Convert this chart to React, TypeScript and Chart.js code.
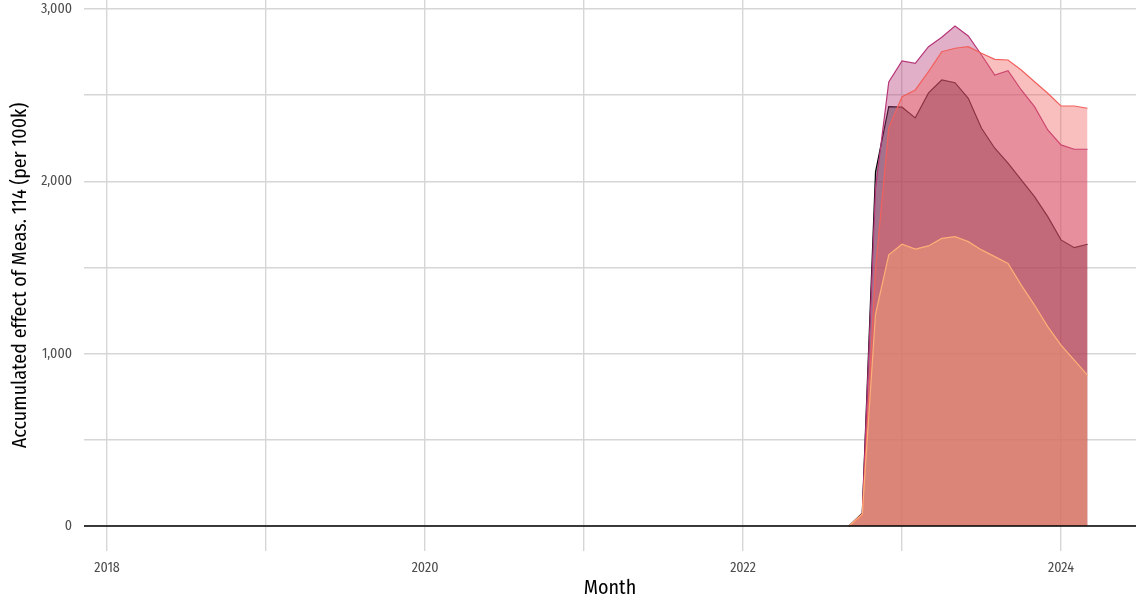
import React, { useEffect, useRef } from "react";
import { Chart, registerables } from "chart.js";

Chart.register(...registerables);

const months = [
  "2022-09", "2022-10", "2022-11", "2022-12",
  "2023-01", "2023-02", "2023-03", "2023-04", "2023-05", "2023-06",
  "2023-07", "2023-08", "2023-09", "2023-10", "2023-11", "2023-12",
  "2024-01", "2024-02", "2024-03",
];

const seriesBlack = [0, 75, 2055, 2433, 2430, 2368, 2513, 2588, 2572, 2482, 2308, 2192, 2105, 2008, 1911, 1795, 1660, 1615, 1635];
const seriesMagenta = [0, 70, 1960, 2576, 2698, 2685, 2781, 2836, 2901, 2843, 2733, 2617, 2642, 2530, 2433, 2298, 2211, 2186, 2186];
const seriesSalmon = [0, 60, 1490, 2310, 2491, 2530, 2636, 2752, 2772, 2781, 2743, 2708, 2704, 2646, 2578, 2511, 2437, 2437, 2424];
const seriesOrange = [0, 70, 1230, 1573, 1635, 1607, 1625, 1669, 1679, 1650, 1602, 1563, 1524, 1398, 1282, 1157, 1050, 963, 876];

const yTicks = [0, 500, 1000, 1500, 2000, 2500, 3000];
const xTickYears = [2018, 2019, 2020, 2021, 2022, 2023, 2024];
const labelledYears = [2018, 2020, 2022, 2024];

const BASE_YEAR = 2018;
const monthIndex = (s: string) => {
  const [y, m] = s.split("-").map(Number);
  return (y - BASE_YEAR) * 12 + (m - 1);
};

const FONT = '"Fira Sans Condensed", "Roboto Condensed", "Liberation Sans Narrow", "DejaVu Sans Condensed", "Noto Sans", sans-serif';

const zeroLine = {
  id: "zeroLine",
  afterDatasetsDraw(chart: any) {
    const { ctx, chartArea, scales } = chart;
    const y = scales.y.getPixelForValue(0);
    ctx.save();
    ctx.strokeStyle = "#000000";
    ctx.lineWidth = 1.3;
    ctx.beginPath();
    ctx.moveTo(chartArea.left, y);
    ctx.lineTo(chartArea.right, y);
    ctx.stroke();
    ctx.restore();
  },
};

export default function App() {
  const ref = useRef<HTMLCanvasElement | null>(null);
  useEffect(() => {
    document.body.style.margin = "0";
    const mk = (vals: number[]) => vals.map((v, i) => ({ x: monthIndex(months[i]), y: v }));
    const series = [
      { data: seriesBlack, line: "#000004", fill: "rgba(0,0,4,0.4)", order: 4 },
      { data: seriesMagenta, line: "#B63679", fill: "rgba(182,54,121,0.4)", order: 3 },
      { data: seriesSalmon, line: "#F1605D", fill: "rgba(241,96,93,0.4)", order: 2 },
      { data: seriesOrange, line: "#FEAF77", fill: "rgba(254,175,119,0.4)", order: 1 },
    ];
    const chart = new Chart(ref.current!, {
      type: "line",
      data: {
        datasets: series.map((s) => ({
          data: mk(s.data),
          borderColor: s.line,
          backgroundColor: s.fill,
          borderWidth: 1.2,
          fill: "origin",
          pointRadius: 0,
          tension: 0,
          order: s.order,
        })),
      },
      plugins: [zeroLine],
      options: {
        animation: false,
        responsive: true,
        maintainAspectRatio: false,
        layout: { padding: { left: 0, right: 2, top: 0, bottom: 0 } },
        plugins: { legend: { display: false }, tooltip: { enabled: false } },
        scales: {
          x: {
            type: "linear",
            min: -1.74,
            max: 77.66,
            afterBuildTicks: (s: any) => {
              s.ticks = xTickYears.map((y) => ({ value: (y - BASE_YEAR) * 12 }));
            },
            afterFit: (s: any) => {
              s.height = 49;
              s.paddingLeft = 0;
              s.paddingRight = 0;
            },
            border: { display: false },
            grid: { color: "#d6d6d6", lineWidth: 1.4, drawTicks: false },
            ticks: {
              padding: 9,
              color: "#4d4d4d",
              font: { family: FONT, size: 14 },
              maxRotation: 0,
              autoSkip: false,
              callback: (v: any) => {
                const yr = BASE_YEAR + Number(v) / 12;
                return labelledYears.includes(yr) ? String(yr) : "";
              },
            },
            title: {
              display: true,
              text: "Month",
              color: "#000000",
              font: { family: FONT, size: 20 },
              padding: { top: 0, bottom: 0 },
            },
          },
          y: {
            min: -145,
            max: 3052,
            afterBuildTicks: (s: any) => {
              s.ticks = yTicks.map((v) => ({ value: v }));
            },
            afterFit: (s: any) => {
              s.width = 84;
              s.paddingTop = 0;
              s.paddingBottom = 0;
            },
            border: { display: false },
            grid: { color: "#d6d6d6", lineWidth: 1.4, drawTicks: false },
            ticks: {
              padding: 12,
              color: "#4d4d4d",
              font: { family: FONT, size: 14 },
              autoSkip: false,
              callback: (v: any) => (Number(v) % 1000 === 0 ? Number(v).toLocaleString("en-US") : ""),
            },
            title: {
              display: true,
              text: "Accumulated effect of Meas. 114 (per 100k)",
              color: "#000000",
              font: { family: FONT, size: 20 },
              padding: { top: 8, bottom: 0 },
            },
          },
        },
      },
    });
    return () => chart.destroy();
  }, []);
  return (
    <div style={{ position: "absolute", left: 0, top: 0, width: 1138, height: 600 }}>
      <canvas ref={ref} />
    </div>
  );
}
